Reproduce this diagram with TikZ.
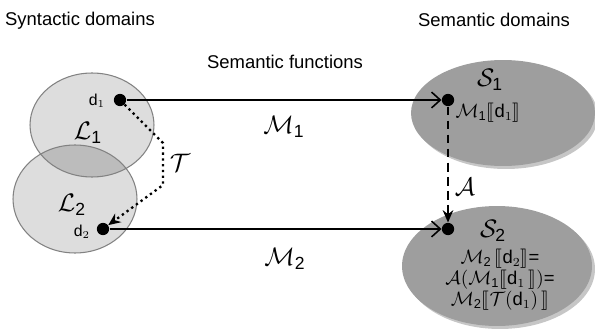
\documentclass[tikz,border=0pt]{standalone}
\usepackage{fontspec}
\setmainfont{Liberation Sans}
\usepackage{stmaryrd}
\usetikzlibrary{arrows.meta}

\definecolor{syngray}{RGB}{221,221,221}
\definecolor{overgray}{RGB}{188,188,188}
\definecolor{semgray}{RGB}{158,158,158}
\definecolor{edgegray}{RGB}{130,130,130}

\tikzset{
  elemdot/.style={circle,fill=black,inner sep=0pt,minimum size=7pt},
  mapline/.style={line width=0.9pt,-{Straight Barb[length=5pt,width=9pt]}},
  biglabel/.style={font=\Large},
}

\begin{document}
\begin{tikzpicture}[x=0.02cm,y=-0.02cm,
    every node/.style={font=\fontsize{10.5pt}{12.6pt}\selectfont}]
    \useasboundingbox (0,0) rectangle (595,331);

    % Syntactic domains
    \fill[syngray] (92,125) ellipse [x radius=1.24cm,y radius=1.04cm];
    \fill[syngray] (75,199) ellipse [x radius=1.24cm,y radius=1.08cm];
    \begin{scope}
        \clip (92,125) ellipse [x radius=1.24cm,y radius=1.04cm];
        \fill[overgray] (75,199) ellipse [x radius=1.24cm,y radius=1.08cm];
    \end{scope}
    \draw[edgegray,line width=0.6pt] (92,125) ellipse [x radius=1.24cm,y radius=1.04cm];
    \draw[edgegray,line width=0.6pt] (75,199) ellipse [x radius=1.24cm,y radius=1.08cm];

    % Semantic domains (with a soft shadow)
    \fill[gray!45] (506,116) ellipse [x radius=1.84cm,y radius=1.06cm];
    \fill[semgray] (503,113) ellipse [x radius=1.84cm,y radius=1.06cm];
    \fill[gray!45] (500,269) ellipse [x radius=1.9cm,y radius=1.2cm];
    \fill[semgray] (497,266) ellipse [x radius=1.9cm,y radius=1.2cm];

    % Headings
    \node (syn) at (80,21) {Syntactic domains};
    \node (sem) at (494,20) {Semantic domains};
    \node (fun) at (285,62) {Semantic functions};

    % Elements
    \node[elemdot] (d1) at (120,100) {};
    \node[elemdot] (d2) at (103,229) {};
    \node[elemdot] (m1) at (448,100) {};
    \node[elemdot] (m2) at (448,229) {};

    \node[font=\small] (d1lbl) at (97,101) {d$_1$};
    \node[font=\small] (d2lbl) at (82,232) {d$_2$};
    \node[biglabel] (l1) at (88,133) {$\mathcal{L}_\mathrm{1}$};
    \node[biglabel] (l2) at (72,205) {$\mathcal{L}_\mathrm{2}$};
    \node[biglabel] (s1) at (490,80) {$\mathcal{S}_\mathrm{1}$};
    \node[biglabel] (s2) at (493,231) {$\mathcal{S}_\mathrm{2}$};

    % Semantic functions
    \draw[mapline] (d1) -- (m1);
    \draw[mapline] (d2) -- (m2);
    \node[biglabel] (M1) at (284,127) {$\mathcal{M}_\mathrm{1}$};
    \node[biglabel] (M2) at (285,259) {$\mathcal{M}_\mathrm{2}$};

    % Translation
    \coordinate (t1) at (163,143);
    \coordinate (t2) at (163,185);
    \draw[dotted,line width=1.3pt,-{Stealth[length=7pt,width=6pt]}] (d1) -- (t1) -- (t2) -- (d2);
    \node[biglabel] (T) at (180,163) {$\mathcal{T}$};

    % Semantic mapping
    \draw[line width=1.4pt,dash pattern=on 5pt off 3pt,-{Stealth[length=7pt,width=6pt]}] (m1) -- (m2);
    \node[biglabel] (A) at (465,187) {$\mathcal{A}$};

    % Values
    \node (v1) at (488,113) {$\mathcal{M}_\mathrm{1}\llbracket$d$_1\rrbracket$};
    \node[align=center,font=\fontsize{10.5pt}{12pt}\selectfont] (v2) at (500,280)
        {$\mathcal{M}_\mathrm{2}\,\llbracket$d$_2\rrbracket$=\\
         $\mathcal{A}(\mathcal{M}_\mathrm{1}\llbracket$d$_1\,\rrbracket)$=\\
         $\mathcal{M}_\mathrm{2}\llbracket\mathcal{T}($d$_1)\,\rrbracket$};

\end{tikzpicture}
\end{document}
